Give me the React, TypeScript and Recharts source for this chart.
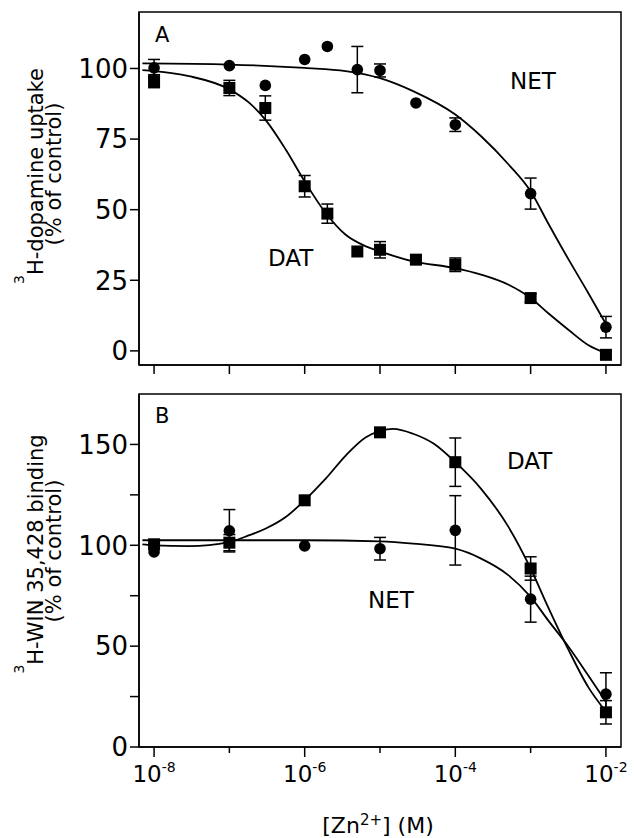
import { ComposedChart, Line, Scatter, ErrorBar, XAxis, YAxis, ReferenceArea } from 'recharts'

// concentrations on the shared x axis (M)
const xTicks = [1e-8, 1e-7, 1e-6, 1e-5, 1e-4, 1e-3, 1e-2]
const xMin = Math.pow(10, -8.2)
const xMax = Math.pow(10, -1.8)

// panel A: 3H-dopamine uptake
const netAConc = [1e-8, 1e-7, 3e-7, 1e-6, 2e-6, 5e-6, 1e-5, 3e-5, 1e-4, 1e-3, 1e-2]
const netAValue = [100.2, 101, 94, 103.2, 107.8, 99.6, 99.3, 87.8, 80.1, 55.7, 8.4]
const netAErr = [3, 0, 0, 0, 0, 8.2, 2.3, 0, 2.4, 5.5, 3.8]

const datAConc = [1e-8, 1e-7, 3e-7, 1e-6, 2e-6, 5e-6, 1e-5, 3e-5, 1e-4, 1e-3, 1e-2]
const datAValue = [95.5, 93.1, 86, 58.3, 48.6, 35.2, 35.8, 32.3, 30.5, 18.7, -1.4]
const datAErr = [2.3, 2.7, 4.3, 3.8, 3.4, 0, 2.9, 1.5, 2.4, 1.5, 0]

// fitted curves
const fitNetAConc = [7e-9, 1e-7, 1e-6, 3.5e-6, 1e-5, 2.75e-5, 1e-4, 2.2e-4, 5.1e-4, 1e-3, 1.7e-3, 3.2e-3, 5.8e-3, 1e-2]
const fitNetAValue = [101.8, 101.4, 100.2, 99.1, 96.6, 92, 83.7, 76, 66, 56.5, 45.3, 32.3, 20.6, 9.5]

const fitDatAConc = [7e-9, 1e-8, 2.9e-8, 1e-7, 1.84e-7, 3e-7, 5.6e-7, 1e-6, 1.9e-6, 3.5e-6, 6.5e-6, 1e-5, 2.75e-5, 1e-4, 2.2e-4, 5.1e-4, 1e-3, 1.7e-3, 3.2e-3, 5.8e-3, 1e-2]
const fitDatAValue = [99.4, 99.1, 97.3, 92.6, 87.8, 81.9, 71.3, 60, 48.8, 41.1, 37, 35.2, 31.7, 29.3, 27, 23.4, 18.7, 13.4, 7.4, 2.1, -0.8]

// panel B: 3H-WIN 35,428 binding
const datBConc = [1e-8, 1e-7, 1e-6, 1e-5, 1e-4, 1e-3, 1e-2]
const datBValue = [100.5, 101.3, 122.3, 156, 141.2, 88.5, 17.2]
const datBErr = [0, 4, 0, 1.5, 12, 5.8, 5.8]

const netBConc = [1e-8, 1e-7, 1e-6, 1e-5, 1e-4, 1e-3, 1e-2]
const netBValue = [96.7, 107.2, 99.7, 98.3, 107.4, 73.3, 26.2]
const netBErr = [0, 10.5, 0, 5.6, 17.2, 11.4, 10.6]

const fitDatBConc = [7e-9, 1e-8, 2.9e-8, 1e-7, 1.84e-7, 3e-7, 5.6e-7, 1e-6, 1.9e-6, 3.5e-6, 6.5e-6, 1e-5, 1.5e-5, 2.75e-5, 5.2e-5, 1e-4, 2.2e-4, 5.1e-4, 1e-3, 1.7e-3, 3.2e-3, 5.8e-3, 1e-2]
const fitDatBValue = [100.5, 100, 99.6, 101.6, 105, 108.2, 114, 122.3, 133, 144.5, 153.6, 156.6, 157.7, 155.3, 150.3, 141.2, 128, 109, 88.5, 69.5, 48, 29.8, 17.5]

const fitNetBConc = [7e-9, 1e-7, 1e-6, 1e-5, 2.75e-5, 1e-4, 2.2e-4, 5.1e-4, 1e-3, 1.7e-3, 3.2e-3, 5.8e-3, 1e-2]
const fitNetBValue = [102.5, 102.5, 102.5, 101.9, 100.8, 98.3, 93.4, 85.1, 74.4, 62.9, 49.6, 35.6, 22.4]

const yTicksA = [0, 25, 50, 75, 100]
const yTicksB = [0, 25, 50, 75, 100, 125, 150]

const zip = (xs: number[], ys: number[], es?: number[]) =>
  xs.map((x, i) => ({ x, y: ys[i], err: es ? es[i] : 0 }))

const Circle = (p: any) => <circle cx={p.cx} cy={p.cy} r={5.8} fill="#000" />
const Square = (p: any) => <rect x={p.cx - 6} y={p.cy - 6} width={12} height={12} fill="#000" />

// bottom axis of B: long ticks + labels on even decades, short ticks between
const XTickB = ({ x, y, payload }: any) => {
  const exp = Math.round(Math.log10(payload.value))
  const axisY = y - 11
  const major = exp % 2 === 0
  return (
    <g>
      <line x1={x} x2={x} y1={axisY} y2={axisY + (major ? 10 : 6)} stroke="#000" strokeWidth={1.5} />
      {major && (
        <text x={x} y={y + 24} textAnchor="middle" fill="#000" fontSize={23}>
          <tspan>10</tspan>
          <tspan dy={-10} fontSize={14}>{exp}</tspan>
        </text>
      )}
    </g>
  )
}

// rotated y title line, as html; cx/cy = centre of the line box on the page
const VLine = ({ cx, cy, children }: { cx: number; cy: number; children: any }) => (
  <div
    style={{
      position: 'absolute',
      left: cx - 150,
      top: cy - 12,
      width: 300,
      height: 24,
      lineHeight: '24px',
      fontSize: 21,
      textAlign: 'center',
      whiteSpace: 'nowrap',
      transform: 'rotate(-90deg)',
      transformOrigin: '150px 12px',
      color: '#000',
    }}
  >
    {children}
  </div>
)

const Sup3 = () => <span style={{ fontSize: 14, position: 'relative', top: -19 }}>3</span>

const TitleA = () => (
  <g fill="#000">
    <text x={155} y={42} fontSize={21}>A</text>
    <text x={510} y={89} fontSize={23}>NET</text>
    <text x={268} y={266} fontSize={23}>DAT</text>
  </g>
)

const TitleB = () => (
  <g fill="#000">
    <text x={155} y={38} fontSize={21}>B</text>
    <text x={507} y={84} fontSize={23}>DAT</text>
    <text x={368} y={223} fontSize={23}>NET</text>
  </g>
)

const XTitle = () => (
  <text x={378} y={448} textAnchor="middle" fill="#000" fontSize={22}>
    <tspan>[Zn</tspan>
    <tspan fontSize={15} dy={-8}>2+</tspan>
    <tspan dy={8}>] (M)</tspan>
  </text>
)

const axisStyle = { stroke: '#000', strokeWidth: 1.5 }

export default function App() {
  return (
    <div style={{ position: 'absolute', left: 0, top: 0, width: 634, height: 838, fontFamily: 'DejaVu Sans', background: '#fff' }}>
      <ComposedChart width={634} height={385} margin={{ top: 12, right: 13, bottom: 0, left: 0 }}>
        <XAxis
          type="number"
          dataKey="x"
          scale="log"
          domain={[xMin, xMax]}
          ticks={xTicks}
          allowDataOverflow
          height={20}
          tickSize={9}
          tickFormatter={() => ''}
          axisLine={axisStyle}
          tickLine={axisStyle}
        />
        <YAxis
          type="number"
          domain={[-5, 120]}
          ticks={yTicksA}
          allowDataOverflow
          width={139}
          tickSize={9}
          tickMargin={2}
          tick={{ fill: '#000', fontSize: 26 }}
          axisLine={axisStyle}
          tickLine={axisStyle}
          label={TitleA}
        />
        <ReferenceArea x1={xMin} x2={xMax} y1={-5} y2={120} fill="none" stroke="#000" strokeWidth={1.5} />
        <Line data={zip(fitNetAConc, fitNetAValue)} dataKey="y" type="monotone" stroke="#000" strokeWidth={1.8} dot={false} isAnimationActive={false} />
        <Line data={zip(fitDatAConc, fitDatAValue)} dataKey="y" type="monotone" stroke="#000" strokeWidth={1.8} dot={false} isAnimationActive={false} />
        <Scatter data={zip(netAConc, netAValue, netAErr)} dataKey="y" shape={Circle} isAnimationActive={false}>
          <ErrorBar dataKey="err" direction="y" width={6} stroke="#000" strokeWidth={1.5} />
        </Scatter>
        <Scatter data={zip(datAConc, datAValue, datAErr)} dataKey="y" shape={Square} isAnimationActive={false}>
          <ErrorBar dataKey="err" direction="y" width={6} stroke="#000" strokeWidth={1.5} />
        </Scatter>
      </ComposedChart>
      <ComposedChart width={634} height={453} margin={{ top: 9, right: 13, bottom: 0, left: 0 }}>
        <XAxis
          type="number"
          dataKey="x"
          scale="log"
          domain={[xMin, xMax]}
          ticks={xTicks}
          allowDataOverflow
          height={91}
          tickSize={9}
          tickMargin={2}
          tick={<XTickB />}
          axisLine={axisStyle}
          tickLine={false}
          label={XTitle}
        />
        <YAxis
          type="number"
          domain={[0, 175]}
          ticks={yTicksB}
          allowDataOverflow
          width={139}
          tickSize={9}
          tickMargin={2}
          tick={{ fill: '#000', fontSize: 26 }}
          tickFormatter={(v: number) => (v % 50 === 0 ? String(v) : '')}
          axisLine={axisStyle}
          tickLine={axisStyle}
          label={TitleB}
        />
        <ReferenceArea x1={xMin} x2={xMax} y1={0} y2={175} fill="none" stroke="#000" strokeWidth={1.5} />
        <Line data={zip(fitDatBConc, fitDatBValue)} dataKey="y" type="monotone" stroke="#000" strokeWidth={1.8} dot={false} isAnimationActive={false} />
        <Line data={zip(fitNetBConc, fitNetBValue)} dataKey="y" type="monotone" stroke="#000" strokeWidth={1.8} dot={false} isAnimationActive={false} />
        <Scatter data={zip(datBConc, datBValue, datBErr)} dataKey="y" shape={Square} isAnimationActive={false}>
          <ErrorBar dataKey="err" direction="y" width={6} stroke="#000" strokeWidth={1.5} />
        </Scatter>
        <Scatter data={zip(netBConc, netBValue, netBErr)} dataKey="y" shape={Circle} isAnimationActive={false}>
          <ErrorBar dataKey="err" direction="y" width={6} stroke="#000" strokeWidth={1.5} />
        </Scatter>
      </ComposedChart>
      <VLine cx={35.7} cy={176}><Sup3 />H-dopamine uptake</VLine>
      <VLine cx={53.7} cy={174}>(% of control)</VLine>
      <VLine cx={35.7} cy={554}><Sup3 />H-WIN 35,428 binding</VLine>
      <VLine cx={53.7} cy={551}>(% of control)</VLine>
    </div>
  )
}
